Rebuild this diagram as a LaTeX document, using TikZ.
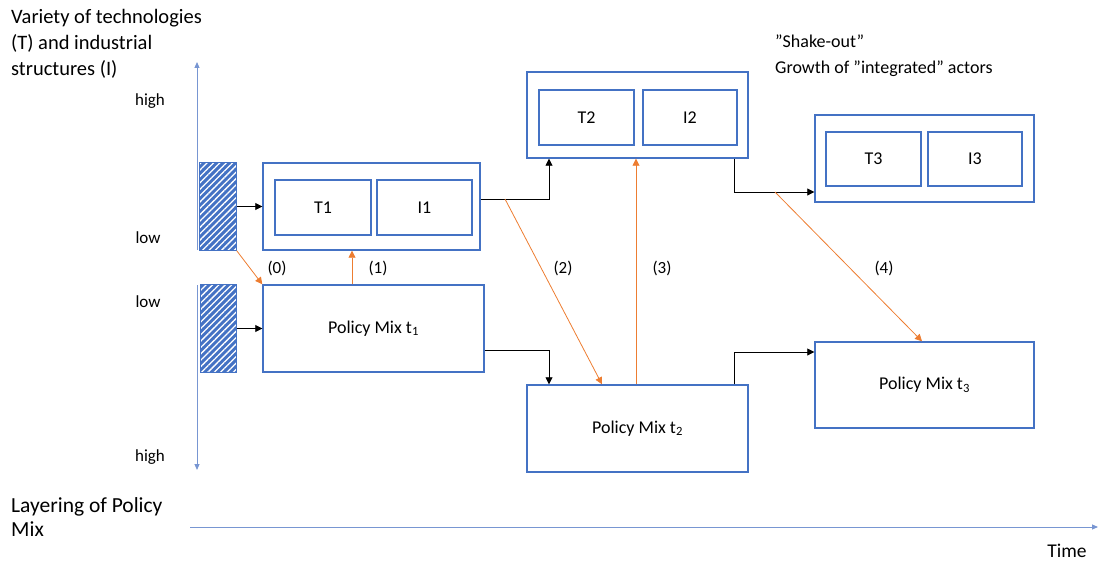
\documentclass[tikz,border=0pt]{standalone}
\usepackage{fontspec}
\setmainfont{Carlito}
\usetikzlibrary{arrows.meta,patterns.meta}
\definecolor{mblue}{RGB}{68,114,196}
\definecolor{aBlue}{RGB}{120,150,210}
\definecolor{morange}{RGB}{237,125,49}
\tikzset{
  box/.style={draw=mblue,line width=1.4pt,inner sep=0pt,fill=white},
  lbl/.style={font=\fontsize{18}{20}\selectfont,inner sep=0pt},
  sml/.style={font=\fontsize{17}{20}\selectfont,inner sep=0pt},
  num/.style={font=\fontsize{17}{20}\selectfont,inner sep=0pt},
  big/.style={font=\fontsize{20.5}{26}\selectfont,inner sep=0pt,align=left},
  blk/.style={draw=black,line width=0.8pt,-{Triangle[length=7pt,width=7pt]}},
  org/.style={draw=morange,line width=0.8pt,-{Triangle[length=7pt,width=7pt]}},
  axis/.style={draw=aBlue,line width=1pt,-{Triangle[length=6pt,width=5pt]}},
}
\begin{document}
\begin{tikzpicture}[x=1pt,y=-1pt]
\useasboundingbox (0,0) rectangle (1099,561);
% axes
\coordinate (va1) at (197,250); \coordinate (va2) at (197,62);
\coordinate (vb1) at (197,285); \coordinate (vb2) at (197,470);
\draw[axis] (va1) -- (va2);
\draw[axis] (vb1) -- (vb2);
\coordinate (ta) at (190,527); \coordinate (tb) at (1098,527);
\draw[axis] (ta) -- (tb);
% texts
\node[big,anchor=base west] (vt) at (11,76) {Variety of technologies\\(T) and industrial\\structures (I)};
\node[big,anchor=base west,font=\fontsize{21.5}{24}\selectfont] (lt) at (11,536) {Layering of Policy\\Mix};
\node[big,anchor=base west,font=\fontsize{18}{26}\selectfont] (so) at (775,74) {”Shake-out”\\Growth of ”integrated” actors};
\node[sml,font=\fontsize{19.5}{22}\selectfont] (tm) at (1067,551) {Time};
\node[sml] (h1) at (150,101) {high};
\node[sml] (l1) at (148,238) {low};
\node[sml] (l2) at (148,302) {low};
\node[sml] (h2) at (150,457) {high};
% hatched
\node[box,minimum width=36pt,minimum height=87pt] (hA) at (218,206.5) {};
\node[box,minimum width=35pt,minimum height=87pt] (hB) at (218.5,328.5) {};
\fill[mblue] (hA.south west) rectangle (hA.north east);
\fill[pattern={Lines[angle=45,distance=4.5pt,line width=1.3pt]},pattern color=white] (hA.south west) rectangle (hA.north east);
\draw[mblue,line width=1.4pt] (hA.south west) rectangle (hA.north east);
\fill[mblue] (hB.south west) rectangle (hB.north east);
\fill[pattern={Lines[angle=45,distance=4.5pt,line width=1.3pt]},pattern color=white] (hB.south west) rectangle (hB.north east);
\draw[mblue,line width=1.4pt] (hB.south west) rectangle (hB.north east);
% boxes
\node[box,minimum width=217pt,minimum height=87pt] (b1) at (371.5,206.5) {};
\node[box,minimum width=96pt,minimum height=55pt,lbl] (t1) at (323,207.5) {T1};
\node[box,minimum width=95pt,minimum height=55pt,lbl] (i1) at (424.5,207.5) {I1};
\node[box,minimum width=221pt,minimum height=87pt,lbl] (p1) at (373.5,328.5) {Policy Mix t\textsubscript{1}};
\node[box,minimum width=221pt,minimum height=86pt] (b2) at (637.5,115) {};
\node[box,minimum width=95pt,minimum height=55pt,lbl] (t2) at (586.5,117.5) {T2};
\node[box,minimum width=94pt,minimum height=55pt,lbl] (i2) at (690,117.5) {I2};
\node[box,minimum width=221pt,minimum height=87pt,lbl] (p2) at (637.5,428.5) {Policy Mix t\textsubscript{2}};
\node[box,minimum width=219pt,minimum height=87pt] (b3) at (924.5,158.5) {};
\node[box,minimum width=95pt,minimum height=54pt,lbl] (t3) at (873.5,159) {T3};
\node[box,minimum width=94pt,minimum height=54pt,lbl] (i3) at (975,159) {I3};
\node[box,minimum width=219pt,minimum height=86pt,lbl] (p3) at (924.5,385) {Policy Mix t\textsubscript{3}};
% black connectors
\draw[blk] (hA.east) -- (b1.west);
\draw[blk] (hB.east) -- (p1.west);
\draw[blk] ([yshift=7.5pt]b1.east) -| ([xshift=-88.5pt]b2.south);
\draw[blk] ([yshift=-21.5pt]p1.east) -| ([xshift=-88.5pt]p2.north);
\draw[blk] ([xshift=96.5pt]b2.south) |- ([yshift=-33.5pt]b3.west);
\draw[blk] ([xshift=96.5pt]p2.north) |- ([yshift=33pt]p3.west);
% orange connectors
\draw[org] (hA.south east) -- (p1.north west);
\draw[org] ([xshift=-21.5pt]p1.north) -- ([xshift=-19.5pt]b1.south);
\coordinate (o2) at (505,199);
\draw[org] (o2) -- ([xshift=-35.5pt]p2.north);
\draw[org] ([xshift=-1.5pt]p2.north) -- ([xshift=-1.5pt]b2.south);
\coordinate (o4) at (775,192);
\draw[org] (o4) -- ([xshift=-2.5pt]p3.north);
% labels
\node[num] (n0) at (277,268) {(0)};
\node[num] (n1) at (378,268) {(1)};
\node[num] (n2) at (563,268) {(2)};
\node[num] (n3) at (662,268) {(3)};
\node[num] (n4) at (884,268) {(4)};
\end{tikzpicture}
\end{document}
